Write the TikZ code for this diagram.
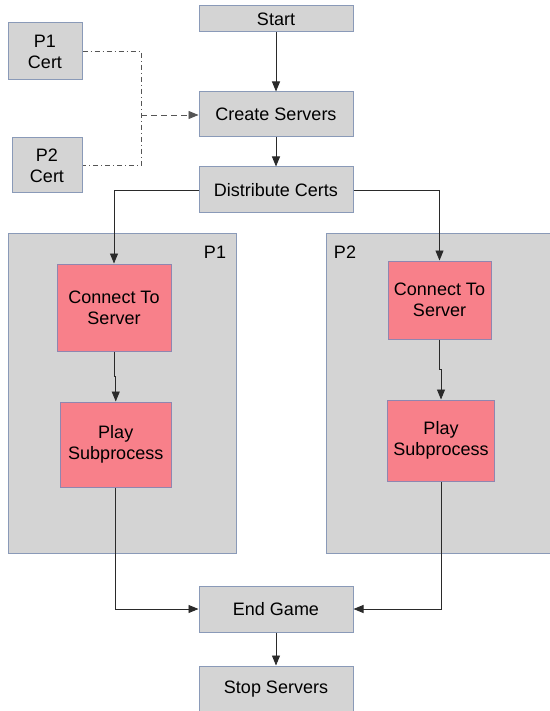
\documentclass[tikz,border=0pt]{standalone}
\usepackage{fontspec}
\setmainfont{Liberation Sans}
\usetikzlibrary{arrows.meta}
\definecolor{boxgray}{HTML}{D4D4D4}
\definecolor{boxedge}{HTML}{8A9AB8}
\definecolor{pinkfill}{HTML}{F8808A}
\definecolor{pinkedge}{HTML}{8F86B0}
\definecolor{linecol}{HTML}{2A2A2A}
\tikzset{
  graybox/.style={draw=boxedge, fill=boxgray, line width=1pt, inner sep=0pt, align=center,
    font=\fontsize{18}{21}\selectfont},
  pinkbox/.style={draw=pinkedge, fill=pinkfill, line width=1pt, inner sep=0pt, align=center,
    font=\fontsize{18}{21}\selectfont},
  container/.style={draw=boxedge, fill=boxgray, line width=1pt, inner sep=0pt},
  lbl/.style={font=\fontsize{18}{21}\selectfont, inner sep=0pt},
  conn/.style={draw=linecol, line width=0.9pt, -{Triangle[length=10pt,width=8pt]}},
  dashdotline/.style={draw=linecol!80, line width=0.9pt, dash pattern=on 5pt off 3pt on 1pt off 3pt},
  dashedarrow/.style={draw=linecol!80, line width=0.9pt, dash pattern=on 6pt off 4pt, -{Triangle[length=10pt,width=8pt]}}
}
\begin{document}
\begin{tikzpicture}[x=1pt,y=-1pt]
\useasboundingbox (0,0) rectangle (549,711);
% containers
\node[container, minimum width=228pt, minimum height=320pt] (cont1) at (122,393) {};
\node[container, minimum width=234pt, minimum height=320pt] (cont2) at (443,393) {};
\node[lbl] (lp1) at (215,252) {P1};
\node[lbl] (lp2) at (345,252) {P2};
% top nodes
\node[graybox, minimum width=154pt, minimum height=26pt] (start) at (276,19) {Start};
\node[graybox, minimum width=154pt, minimum height=45pt] (create) at (276,114.5) {Create Servers};
\node[graybox, minimum width=154pt, minimum height=46pt] (dist) at (276,190) {Distribute Certs};
\node[graybox, minimum width=74pt, minimum height=57pt] (c1) at (45,51.5) {P1\\Cert};
\node[graybox, minimum width=70pt, minimum height=55pt] (c2) at (47,165.5) {P2\\Cert};
% inner nodes
\node[pinkbox, minimum width=114pt, minimum height=87pt] (cn1) at (114,307.5) {Connect To\\Server};
\node[pinkbox, minimum width=111.5pt, minimum height=85pt] (pl1) at (115.75,444.5) {Play\\Subprocess};
\node[pinkbox, minimum width=103pt, minimum height=78pt] (cn2) at (439.5,300) {Connect To\\Server};
\node[pinkbox, minimum width=107.5pt, minimum height=81pt] (pl2) at (441,440.5) {Play\\Subprocess};
% bottom nodes
\node[graybox, minimum width=154pt, minimum height=46pt] (endg) at (276,609) {End Game};
\node[graybox, minimum width=154pt, minimum height=46pt] (stop) at (276,689) {Stop Servers};
% connectors
\coordinate (j) at (141,115);
\draw[dashdotline] (c1.east) -- (c1.east -| j) -- (c2.east -| j) -- (c2.east);
\draw[dashedarrow] (j) -- (j -| create.west);
\draw[conn] (start) -- (create);
\draw[conn] (create) -- (dist);
\draw[conn] (dist.west) -| (cn1.north);
\draw[conn] (dist.east) -| (cn2.north);
\draw[conn] (cn1.south) -- ++(0,25) -| (pl1.north);
\draw[conn] (cn2.south) -- ++(0,30) -| (pl2.north);
\draw[conn] (pl1.south) |- (endg.west);
\draw[conn] (pl2.south) |- (endg.east);
\draw[conn] (endg) -- (stop);
\end{tikzpicture}
\end{document}
